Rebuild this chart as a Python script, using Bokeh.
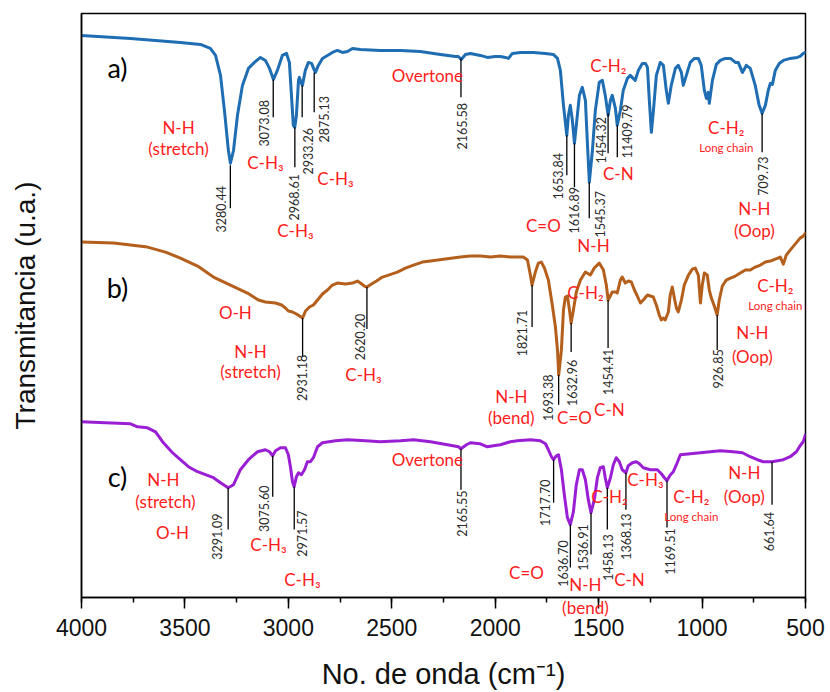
import math
from bokeh.plotting import figure
from bokeh.models import Range1d, SingleIntervalTicker, FixedTicker, ColumnDataSource
from bokeh.embed import file_html
from bokeh.resources import INLINE
from bokeh.core.properties import value

# ---------------- data (wavenumber cm-1, transmittance in arbitrary offset units) ----------------
wn_a = [4000, 3763, 3522, 3425, 3377, 3352, 3328, 3309, 3290, 3280, 3265, 3246, 3222, 3193, 3164, 3135,
        3111, 3091, 3072, 3053, 3029, 3009, 2995, 2985, 2976, 2969, 2961, 2951, 2947, 2937, 2932, 2918,
        2903, 2888, 2874, 2869, 2855, 2835, 2811, 2787, 2763, 2739, 2714, 2690, 2652, 2555, 2458, 2362,
        2265, 2192, 2178, 2164, 2144, 2120, 2072, 2038, 2000, 1975, 1951, 1936, 1917, 1878, 1815, 1758,
        1719, 1699, 1685, 1670, 1654, 1646, 1637, 1627, 1617, 1608, 1593, 1579, 1564, 1555, 1545, 1530,
        1516, 1497, 1482, 1468, 1454, 1443, 1434, 1419, 1410, 1395, 1381, 1361, 1347, 1333, 1323, 1308,
        1289, 1274, 1264, 1255, 1245, 1235, 1221, 1202, 1187, 1173, 1163, 1149, 1129, 1115, 1100, 1091,
        1076, 1057, 1037, 1018, 1004, 989, 979, 970, 965, 950, 931, 912, 888, 863, 839, 825,
        805, 786, 767, 743, 724, 710, 694, 680, 670, 660, 646, 627, 607, 574, 540, 526, 511, 500]
t_a = [563, 560, 556, 554, 550, 543, 523, 488, 448, 435, 448, 483, 513, 530, 536, 541,
       538, 530, 519, 528, 543, 545, 536, 503, 473, 471, 483, 518, 521, 515, 513, 528,
       536, 535, 528, 526, 533, 540, 543, 546, 548, 546, 547, 550, 549, 548, 548, 547,
       544, 542, 542, 539, 544, 545, 543, 541, 542, 542, 541, 540, 545, 546, 546, 545,
       544, 540, 528, 493, 463, 483, 493, 478, 455, 473, 503, 511, 498, 458, 416, 448,
       488, 516, 518, 503, 483, 498, 503, 490, 473, 488, 508, 520, 523, 520, 518, 528,
       535, 535, 531, 498, 466, 488, 523, 536, 533, 508, 495, 513, 530, 533, 526, 513,
       523, 536, 540, 540, 533, 508, 500, 506, 495, 518, 534, 538, 540, 540, 536, 536,
       526, 533, 530, 513, 493, 485, 493, 508, 515, 514, 528, 535, 538, 540, 541, 542, 545, 546]

wn_b = [4000, 3845, 3681, 3594, 3522, 3439, 3362, 3280, 3198, 3145, 3111, 3062, 3033, 3014, 3000, 2980,
        2961, 2931, 2917, 2898, 2879, 2859, 2835, 2811, 2787, 2763, 2724, 2690, 2666, 2652, 2633, 2620,
        2598, 2574, 2545, 2516, 2473, 2434, 2395, 2352, 2313, 2241, 2168, 2120, 2072, 2023, 1975, 1927,
        1864, 1844, 1830, 1822, 1806, 1791, 1777, 1762, 1743, 1724, 1709, 1699, 1693, 1680, 1670, 1661,
        1651, 1641, 1633, 1622, 1608, 1588, 1564, 1540, 1521, 1497, 1477, 1463, 1454, 1434, 1419, 1410,
        1395, 1386, 1371, 1356, 1342, 1327, 1313, 1298, 1284, 1264, 1250, 1236, 1221, 1207, 1197, 1187,
        1178, 1163, 1154, 1144, 1134, 1124, 1115, 1100, 1086, 1066, 1047, 1033, 1018, 1008, 999, 989,
        975, 965, 955, 941, 927, 917, 902, 883, 863, 839, 815, 791, 767, 743, 718, 694,
        670, 646, 622, 607, 593, 574, 550, 526, 511, 500]
t_b = [356, 355, 351, 346, 340, 332, 321, 313, 305, 298, 296, 295, 293, 290, 287, 286,
       284, 280, 287, 291, 293, 298, 304, 308, 313, 315, 314, 315, 317, 315, 312, 311,
       314, 317, 321, 323, 326, 330, 333, 336, 337, 339, 341, 342, 342, 341, 342, 341,
       341, 338, 323, 313, 326, 335, 336, 330, 318, 293, 271, 248, 223, 248, 288, 301,
       302, 288, 275, 288, 306, 318, 326, 323, 330, 335, 328, 313, 298, 306, 306, 305,
       318, 321, 315, 317, 316, 308, 302, 295, 298, 303, 302, 301, 293, 283, 278, 280,
       278, 286, 303, 311, 300, 290, 286, 298, 313, 323, 329, 330, 323, 295, 313, 325,
       323, 308, 300, 292, 283, 298, 312, 318, 320, 322, 325, 328, 328, 331, 333, 336,
       337, 339, 341, 334, 343, 348, 354, 360, 362, 365]

wn_c = [4000, 3884, 3763, 3729, 3681, 3642, 3604, 3560, 3522, 3483, 3439, 3401, 3362, 3328, 3291, 3265,
        3232, 3193, 3149, 3111, 3091, 3076, 3062, 3038, 3014, 3000, 2990, 2980, 2972, 2961, 2951, 2937,
        2922, 2908, 2893, 2879, 2859, 2835, 2772, 2714, 2627, 2555, 2458, 2395, 2313, 2231, 2178, 2166,
        2139, 2120, 2072, 2038, 2009, 1975, 1927, 1893, 1830, 1782, 1757, 1743, 1728, 1718, 1704, 1694,
        1680, 1666, 1651, 1637, 1622, 1608, 1593, 1579, 1564, 1550, 1537, 1521, 1506, 1492, 1477, 1468,
        1458, 1443, 1429, 1415, 1400, 1386, 1368, 1357, 1337, 1318, 1303, 1284, 1250, 1216, 1197, 1182,
        1170, 1153, 1139, 1124, 1105, 1057, 1008, 960, 912, 849, 805, 767, 733, 704, 662, 607,
        574, 544, 526, 511, 500]
t_c = [176, 175, 174, 171, 170, 166, 155, 145, 138, 131, 126, 123, 120, 115, 110, 113,
       128, 138, 146, 148, 146, 142, 147, 150, 150, 143, 131, 116, 111, 121, 125, 123,
       128, 136, 136, 140, 151, 155, 157, 158, 157, 156, 157, 158, 156, 153, 151, 149,
       153, 155, 154, 151, 152, 153, 156, 157, 158, 157, 154, 148, 141, 138, 142, 143,
       128, 103, 80, 73, 86, 113, 128, 128, 118, 98, 85, 98, 120, 130, 131, 120,
       110, 120, 133, 140, 136, 128, 125, 132, 135, 136, 134, 130, 128, 128, 124, 120,
       117, 123, 126, 133, 143, 144, 145, 146, 147, 146, 145, 141, 138, 136, 136, 138,
       141, 146, 152, 156, 163]

# peak markers (label text = wavenumber)
peaks_a = ["3280.44", "3073.08", "2968.61", "2933.26", "2875.13", "2165.58", "1653.84", "1616.89",
           "1545.37", "1454.32", "11409.79", "709.73"]
peaks_b = ["2931.18", "2620.20", "1821.71", "1693.38", "1632.96", "1454.41", "926.85"]
peaks_c = ["3291.09", "3075.60", "2971.57", "2165.55", "1717.70", "1636.70", "1536.91", "1458.13",
           "1368.13", "1169.51", "661.64"]
peak_pos_a = [3280.44, 3073.08, 2968.61, 2933.26, 2875.13, 2165.58, 1653.84, 1616.89, 1545.37, 1454.32, 1409.79, 709.73]
peak_pos_b = [2931.18, 2620.20, 1821.71, 1693.38, 1632.96, 1454.41, 926.85]
peak_pos_c = [3291.09, 3075.60, 2971.57, 2165.55, 1717.70, 1636.70, 1536.91, 1458.13, 1368.13, 1169.51, 661.64]

# assignment labels
assign_text = ["N-H", "(stretch)", "C-H\u2083", "C-H\u2083", "C-H\u2083", "Overtone", "C-H\u2082", "C-N", "C=O", "N-H",
               "C-H\u2082", "N-H", "(Oop)",
               "O-H", "N-H", "(stretch)", "C-H\u2083", "N-H", "(bend)", "C=O", "C-N", "C-H\u2082", "C-H\u2082",
               "N-H", "(Oop)",
               "N-H", "(stretch)", "O-H", "C-H\u2083", "C-H\u2083", "Overtone", "C=O", "N-H", "C-N", "C-H\u2082",
               "C-H\u2083", "C-H\u2082", "N-H", "(Oop)"]
below_text = "(bend)"
small_text = ["Long chain", "Long chain", "Long chain"]
curve_names = ["a)", "b)", "c)"]
x_title = "No. de onda (cm\u207b\u00b9)"
y_title = "Transmitancia (u.a.)"

# ---------------- layout of annotations (positions only) ----------------
mark_y_a = [(433, 390), (519, 481), (471, 431), (513, 481), (526, 486), (540, 501), (463, 423), (455, 411),
            (416, 380), (485, 445), (473, 441), (485, 446)]
mark_t_a = [(3328, 389), (3120, 475), (2975, 401), (2903, 447), (2826, 479), (2160, 472), (1695, 422), (1617, 388),
            (1492, 384), (1487, 458), (1361, 467), (704, 422)]
mark_y_b = [(280, 241), (311, 269), (313, 271), (223, 193), (275, 246), (298, 250), (283, 248)]
mark_t_b = [(2932, 220), (2652, 261), (1869, 265), (1743, 200), (1627, 215), (1453, 226), (921, 229)]
mark_y_c = [(110, 68), (142, 101), (111, 68), (149, 108), (138, 95), (73, 30), (85, 43), (110, 68),
            (125, 88), (117, 70), (136, 93)]
mark_t_c = [(3343, 61), (3120, 89), (2932, 64), (2160, 84), (1757, 95), (1670, 34), (1574, 50), (1453, 40),
            (1366, 61), (1153, 46), (675, 66)]

assign_pos = [(3531, 471), (3531, 450), (3111, 436), (2772, 420), (2966, 368), (2328, 523), (1453, 533), (1405, 425),
              (1767, 373), (1525, 353), (883, 471), (747, 390), (747, 368),
              (3256, 285), (3183, 246), (3183, 226), (2637, 223), (1922, 201), (1922, 180), (1617, 180), (1448, 188),
              (1564, 306), (646, 313), (757, 265), (757, 241),
              (3604, 118), (3594, 96), (3560, 65), (3096, 53), (2932, 18), (2328, 138), (1849, 25), (1564, 13),
              (1351, 18), (1448, 101), (1274, 118), (1052, 101), (796, 125), (796, 101)]
below_pos = (1564, -10)
small_pos = [(883, 451), (646, 293), (1052, 81)]
name_pos = [(3826, 531), (3826, 311), (3826, 121)]

colors = ["#1f6db2", "#b45f1c", "#9a1fd4"]
RED = "#ff1c1c"
LBL_FONT = "Lato"

p = figure(width=830, height=692, x_range=Range1d(4000, 500), y_range=Range1d(0, 585),
           output_backend="svg", toolbar_location=None,
           min_border_left=81, min_border_right=25, min_border_top=13, min_border_bottom=94)
p.background_fill_color = "white"
p.border_fill_color = "white"
p.outline_line_color = "black"
p.outline_line_width = 1.5
p.xgrid.visible = False
p.ygrid.visible = False

# x axis
p.xaxis.ticker = SingleIntervalTicker(interval=500, num_minor_ticks=2)
p.xaxis.major_tick_out = 11
p.xaxis.major_tick_in = 0
p.xaxis.minor_tick_out = 5
p.xaxis.minor_tick_in = 0
p.xaxis.major_tick_line_width = 1.5
p.xaxis.minor_tick_line_width = 1.5
p.xaxis.major_tick_line_color = "black"
p.xaxis.minor_tick_line_color = "black"
p.xaxis.axis_line_color = "black"
p.xaxis.axis_line_width = 1.5
p.xaxis.major_label_text_font = "Liberation Sans"
p.xaxis.major_label_text_font_size = "23px"
p.xaxis.major_label_text_color = "#111111"
p.xaxis.major_label_standoff = 10
p.xaxis.axis_label = x_title
p.xaxis.axis_label_text_font = "Liberation Sans"
p.xaxis.axis_label_text_font_size = "29px"
p.xaxis.axis_label_text_font_style = "normal"
p.xaxis.axis_label_text_color = "#111111"
p.xaxis.axis_label_standoff = 19

# y axis (no ticks)
p.yaxis.ticker = FixedTicker(ticks=[])
p.yaxis.major_tick_out = 0
p.yaxis.major_tick_in = 0
p.yaxis.minor_tick_out = 0
p.yaxis.minor_tick_in = 0
p.yaxis.axis_line_color = "black"
p.yaxis.axis_line_width = 1.5
p.yaxis.axis_label = y_title
p.yaxis.axis_label_text_font = "Liberation Sans"
p.yaxis.axis_label_text_font_size = "28px"
p.yaxis.axis_label_text_font_style = "normal"
p.yaxis.axis_label_text_color = "#111111"
p.yaxis.axis_label_standoff = 41

# spectra
for wn, t, c in [(wn_a, t_a, colors[0]), (wn_b, t_b, colors[1]), (wn_c, t_c, colors[2])]:
    p.line(wn, t, line_color=c, line_width=3, line_join="round", line_cap="round")

# peak markers
for pos, labels, my, mt in [(peak_pos_a, peaks_a, mark_y_a, mark_t_a),
                            (peak_pos_b, peaks_b, mark_y_b, mark_t_b),
                            (peak_pos_c, peaks_c, mark_y_c, mark_t_c)]:
    src = ColumnDataSource(dict(x=pos, y0=[m[0] for m in my], y1=[m[1] for m in my]))
    p.segment(x0="x", y0="y0", x1="x", y1="y1", source=src, line_color="black", line_width=1.3)
    tsrc = ColumnDataSource(dict(x=[m[0] for m in mt], y=[m[1] for m in mt], text=labels))
    p.text(x="x", y="y", text="text", source=tsrc, angle=math.pi / 2, text_align="center",
           text_baseline="middle", text_font=value(LBL_FONT), text_font_size="12.5px", text_color="#2a2a2a")

# assignment labels (red)
asrc = ColumnDataSource(dict(x=[a[0] for a in assign_pos], y=[a[1] for a in assign_pos], text=assign_text))
p.text(x="x", y="y", text="text", source=asrc, text_align="center", text_baseline="middle",
       text_font=value(LBL_FONT), text_font_size="17px", text_color=RED)

ssrc = ColumnDataSource(dict(x=[s[0] for s in small_pos], y=[s[1] for s in small_pos], text=small_text))
p.text(x="x", y="y", text="text", source=ssrc, text_align="center", text_baseline="middle",
       text_font=value(LBL_FONT), text_font_size="11.5px", text_color=RED)

# the "(bend)" of curve c) sits just below the frame, over the axis (overlay level: not clipped)
p.text(x=[below_pos[0]], y=[below_pos[1]], text=[below_text], text_align="center", text_baseline="middle",
       text_font=value(LBL_FONT), text_font_size="17px", text_color=RED, level="overlay")

nsrc = ColumnDataSource(dict(x=[n[0] for n in name_pos], y=[n[1] for n in name_pos], text=curve_names))
p.text(x="x", y="y", text="text", source=nsrc, text_align="center", text_baseline="middle",
       text_font=value(LBL_FONT), text_font_size="27px", text_color="black")

open("out.html", "w").write(file_html(p, INLINE))
